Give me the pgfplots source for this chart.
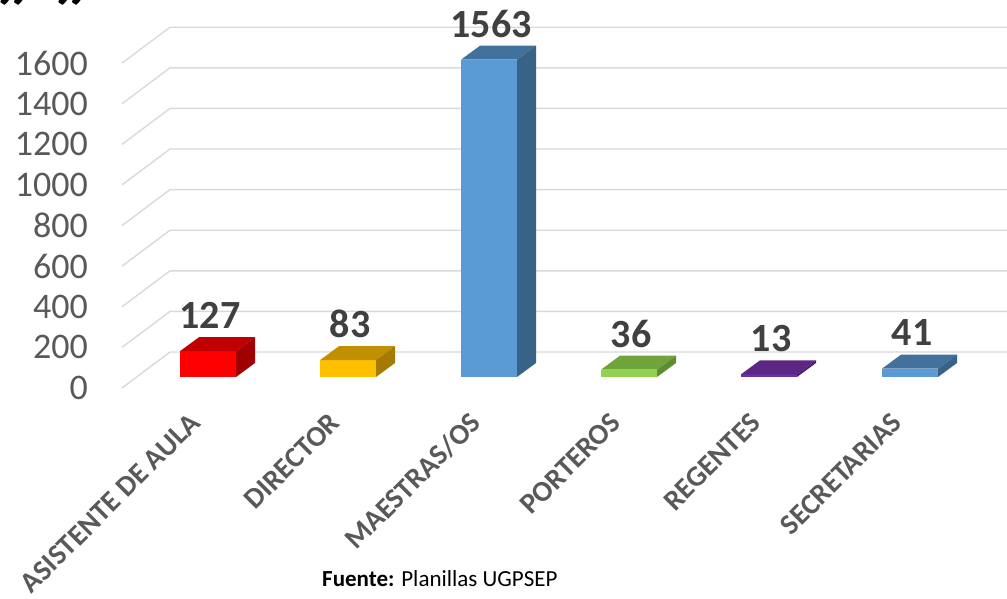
\documentclass[border=0pt]{standalone}
\usepackage{pgfplots}
\pgfplotsset{compat=1.18}
\usepackage{fontspec}
\setmainfont{Carlito}
\definecolor{gridc}{HTML}{D9D9D9}
\definecolor{tickc}{HTML}{595959}
\definecolor{labc}{HTML}{404040}
\definecolor{redF}{HTML}{FF0000}\definecolor{redT}{HTML}{C00000}\definecolor{redS}{HTML}{A00000}
\definecolor{yelF}{HTML}{FFC000}\definecolor{yelT}{HTML}{C09000}\definecolor{yelS}{HTML}{A47A00}
\definecolor{bluF}{HTML}{5B9BD5}\definecolor{bluT}{HTML}{41719C}\definecolor{bluS}{HTML}{386387}
\definecolor{grnF}{HTML}{92D050}\definecolor{grnT}{HTML}{6FA33C}\definecolor{grnS}{HTML}{5E8C33}
\definecolor{purF}{HTML}{7030A0}\definecolor{purT}{HTML}{5B2684}\definecolor{purS}{HTML}{4A1E6A}
\tikzset{datalabel/.style={font=\bfseries\fontsize{40}{40}\selectfont, text=labc, anchor=center, inner sep=0pt}}
% x: bar centre (px), v: value, front/top/side colours
\newcommand\barthreed[5]{%
 \pgfmathsetmacro\xl{#1-28}%
 \pgfmathsetmacro\xr{#1+28}%
 \pgfmathsetmacro\xlb{#1-9}%
 \pgfmathsetmacro\xrb{#1+47}%
 \pgfmathsetmacro\vt{#2+69}%
 \pgfmathsetmacro\vl{#2+177}%
 \pgfmathsetmacro\xlab{#1+2}%
 \edef\tmp{%
 \noexpand\addplot[fill=#3,draw=none] coordinates {(\xl,0)(\xr,0)(\xr,#2)(\xl,#2)} -- cycle;
 \noexpand\addplot[fill=#4,draw=none] coordinates {(\xl,#2)(\xr,#2)(\xrb,\vt)(\xlb,\vt)} -- cycle;
 \noexpand\addplot[fill=#5,draw=none] coordinates {(\xr,0)(\xrb,69)(\xrb,\vt)(\xr,#2)} -- cycle;
 \noexpand\node[datalabel] at (axis cs:\xlab,\vl) {#2};
 }\tmp}
\begin{document}
\begin{tikzpicture}
\begin{axis}[name=ax,
 scale only axis, width=1007pt, height=599pt,
 xmin=0, xmax=1007, ymin=-1093.6, ymax=1857.1,
 clip=false,
 axis line style={draw=none}, major tick length=0pt,
 scaled y ticks=false,
 /pgf/number format/assume math mode=true,
 /pgf/number format/1000 sep={},
 ytick={0,200,...,1600},
 yticklabel style={font=\fontsize{36}{36}\selectfont, text=tickc, anchor=east, inner sep=0pt, xshift=88pt, yshift=-11pt},
 xtick={208,348,489,629,769,910},
 xticklabels={ASISTENTE DE AULA,DIRECTOR,MAESTRAS/OS,PORTEROS,REGENTES,SECRETARIAS},
 xticklabel style={xshift=-13pt, yshift=181pt, rotate=45, anchor=east, inner sep=0pt, font=\bfseries\fontsize{29}{29}\selectfont, text=tickc},
]
\pgfplotsinvokeforeach{0,200,...,1600}{%
 \pgfmathsetmacro\ga{#1-54}\pgfmathsetmacro\gb{#1+123}%
 \edef\tmp{\noexpand\addplot[gridc, line width=1.4pt] coordinates {(122,\ga)(170,\gb)(1007,\gb)};}\tmp
}
\barthreed{208}{127}{redF}{redT}{redS}
\barthreed{348}{83}{yelF}{yelT}{yelS}
\barthreed{489}{1563}{bluF}{bluT}{bluS}
\barthreed{629}{36}{grnF}{grnT}{grnS}
\barthreed{769}{13}{purF}{purT}{purS}
\barthreed{910}{41}{bluF}{bluT}{bluS}
\node[anchor=base west, font=\fontsize{23}{27}\selectfont, inner sep=0pt] at (axis cs:322,-1034) {\textbf{Fuente:} Planillas UGPSEP};
\node[anchor=base west, font=\bfseries\fontsize{85}{85}\selectfont, inner sep=0pt] at (axis cs:-5,1652) {”};
\node[anchor=base west, font=\bfseries\fontsize{85}{85}\selectfont, inner sep=0pt] at (axis cs:53,1652) {”};
\end{axis}
\pgfresetboundingbox
\path[use as bounding box] (ax.south west) rectangle (ax.north east);
\end{tikzpicture}
\end{document}
